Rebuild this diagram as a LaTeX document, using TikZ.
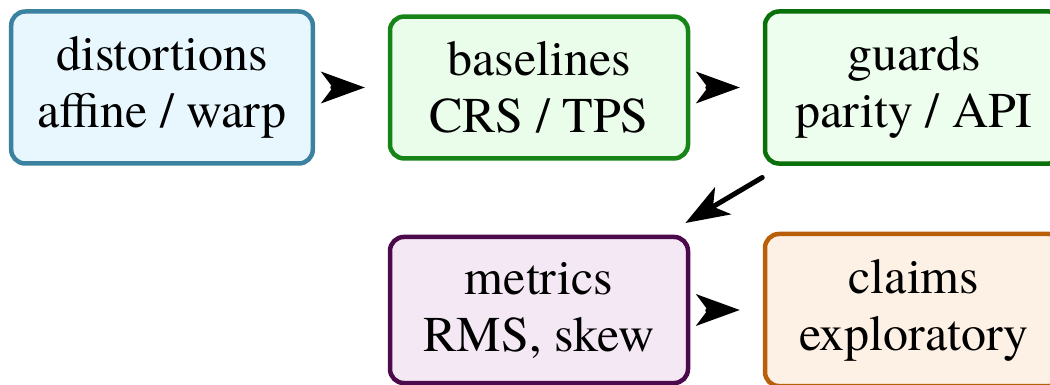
\documentclass[tikz,border=0pt]{standalone}
\usepackage{fontspec}
\setmainfont{TeX Gyre Termes}
\usetikzlibrary{arrows.meta}
\definecolor{distD}{RGB}{58,130,160}
\definecolor{distF}{RGB}{232,246,253}
\definecolor{baseD}{RGB}{22,132,22}
\definecolor{baseF}{RGB}{234,252,234}
\definecolor{guardD}{RGB}{10,112,10}
\definecolor{guardF}{RGB}{238,254,238}
\definecolor{metrD}{RGB}{75,10,75}
\definecolor{metrF}{RGB}{243,232,243}
\definecolor{claimD}{RGB}{185,95,10}
\definecolor{claimF}{RGB}{253,240,228}
\begin{document}
\begin{tikzpicture}[x=1pt,y=1pt,
  box/.style={draw, line width=4.5pt, rounded corners=14pt, align=center,
    inner xsep=26pt, inner ysep=25pt, minimum width=298pt,
    font=\fontsize{50}{57}\selectfont},
  flow/.style={-{Stealth[length=44pt,width=32pt,inset=12pt,line width=0pt]}, line width=5pt, line cap=round,
    shorten <=23pt, shorten >=23pt}
]
\useasboundingbox (0,0) rectangle (1050,-385);
\node[box, draw=distD, fill=distF] (dist) at (162,-87.5) {distortions\\affine / warp};
\node[box, draw=baseD, fill=baseF] (base) at (539,-87.5) {baselines\\CRS / TPS};
\node[box, draw=guardD, fill=guardF] (guard) at (914,-87.5) {guards\\parity / API};
\node[box, draw=metrD, fill=metrF] (metr) at (539,-310) {metrics\\RMS, skew};
\node[box, draw=claimD, fill=claimF] (claim) at (914,-310) {claims\\exploratory};
\draw[flow] (dist) -- (base);
\draw[flow] (base) -- (guard);
\draw[flow] (guard) -- (metr);
\draw[flow] (metr) -- (claim);
\end{tikzpicture}
\end{document}
